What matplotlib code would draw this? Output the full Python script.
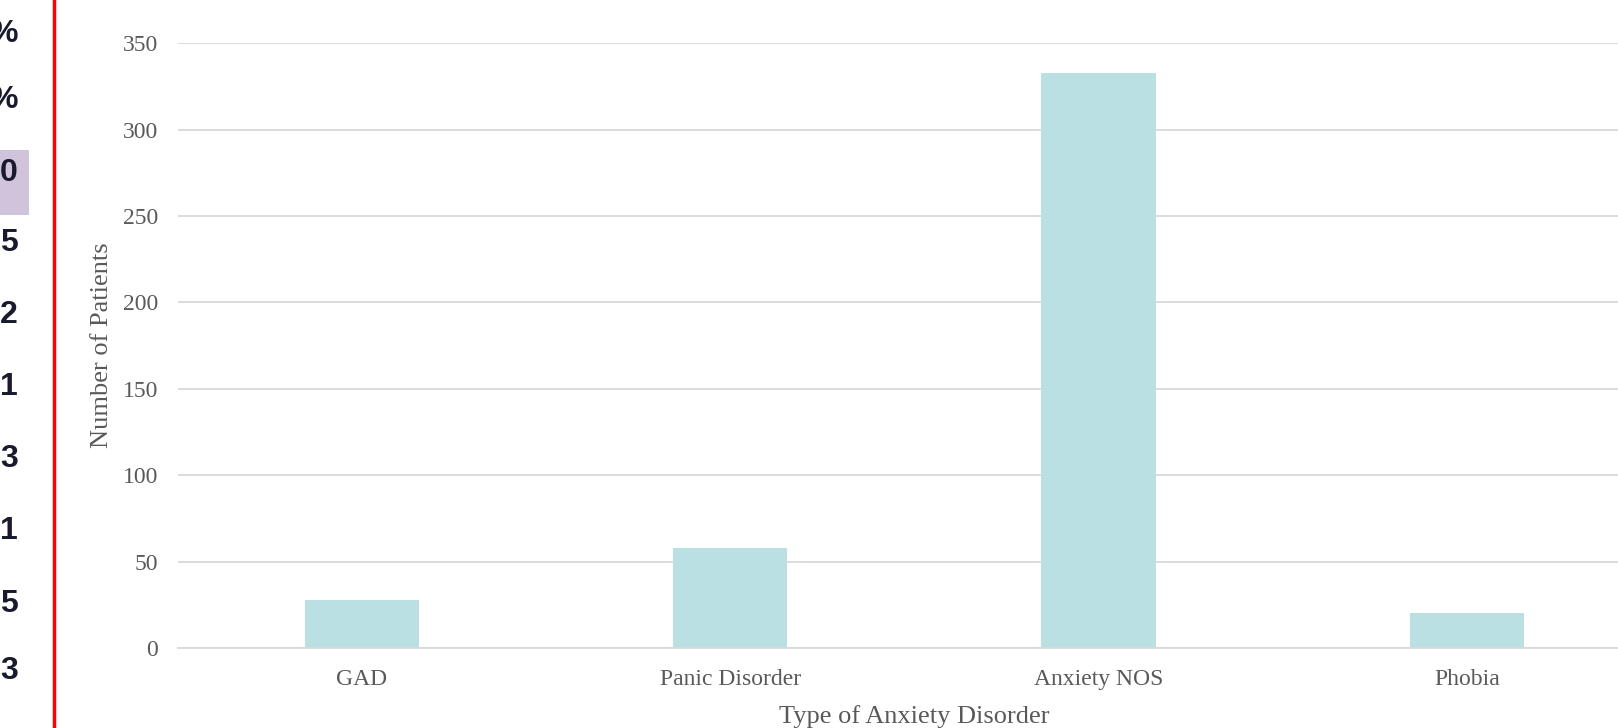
import matplotlib.pyplot as plt
from matplotlib.patches import Rectangle

categories = ['GAD', 'Panic Disorder', 'Anxiety NOS', 'Phobia']
patients = [28, 58, 333, 20]
yticks = [0, 50, 100, 150, 200, 250, 300, 350]

# clipped column from the neighbouring spreadsheet on the left
side_chars = ['%', '%', '0', '5', '2', '1', '3', '1', '5', '3']
side_y_px = [34, 100, 173, 243, 315, 387, 459, 531, 604, 671]

W, H = 1618, 728
fig = plt.figure(figsize=(W / 100, H / 100), dpi=100)
fig.patch.set_facecolor('white')

ax = fig.add_axes([177.5 / W, 80 / H, 4 * 368.4 / W, (648 - 43.3) / H])
ax.bar(range(len(categories)), patients, width=0.31, color='#bbe0e3', zorder=2)
ax.set_xlim(-0.5, 3.5)
ax.set_ylim(0, 350)
ax.set_yticks(yticks)
ax.set_xticks(range(len(categories)))
ax.set_xticklabels(categories)
ax.grid(axis='y', color='#d9d9d9', linewidth=1.3, zorder=0)
for s in ['top', 'right', 'left']:
    ax.spines[s].set_visible(False)
ax.spines['bottom'].set_color('#d9d9d9')
ax.spines['bottom'].set_linewidth(1.3)
ax.tick_params(length=0, labelsize=17, labelcolor='#595959', pad=14)
ax.tick_params(axis='x', pad=15)
for lab in ax.get_xticklabels() + ax.get_yticklabels():
    lab.set_family('Liberation Serif')
ax.set_xlabel('Type of Anxiety Disorder', family='Liberation Serif', fontsize=19,
              color='#595959', labelpad=11)
ax.set_ylabel('Number of Patients', family='Liberation Serif', fontsize=19,
              color='#595959', labelpad=7)

# left strip
fig.patches.append(Rectangle((0, 1 - 215 / H), 29 / W, 65 / H, transform=fig.transFigure,
                             facecolor='#cfc4dc', edgecolor='none'))
for ch, y in zip(side_chars, side_y_px):
    fig.text(18 / W, 1 - y / H, ch, ha='right', va='center', fontsize=23,
             fontweight='bold', family='Liberation Sans', color='#1a1a2e')
fig.add_artist(plt.Line2D([53.5 / W, 53.5 / W], [0, 1], transform=fig.transFigure,
                          color='#ff0000', linewidth=2.5))

fig.savefig('out.png', dpi=100)
